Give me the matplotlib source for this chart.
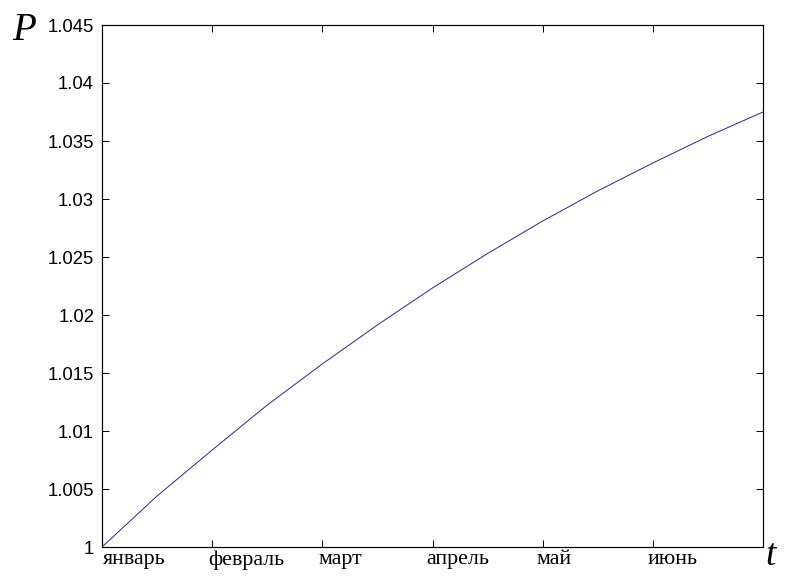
import matplotlib
matplotlib.use("Agg")
import matplotlib.pyplot as plt
from matplotlib.transforms import ScaledTranslation

t = [0, 0.5, 1, 1.5, 2, 2.5, 3, 3.5, 4, 4.5, 5, 5.5, 6]
P = [1.0, 1.0044, 1.00836, 1.01224, 1.01578, 1.01914, 1.02233,
     1.0253, 1.0281, 1.0307, 1.0331, 1.0354, 1.0375]
month_pos = [0, 1, 2, 3, 4, 5]
month_labels = ["январь", "февраль", "март", "апрель", "май", "июнь"]
yticks = [1, 1.005, 1.01, 1.015, 1.02, 1.025, 1.03, 1.035, 1.04, 1.045]
ytick_labels = ["1", "1.005", "1.01", "1.015", "1.02", "1.025", "1.03", "1.035", "1.04", "1.045"]

fig = plt.figure(figsize=(11, 8), dpi=72)
ax = fig.add_axes([102/792, 1-547/576, (763-102)/792, (547-25)/576])

ax.plot(t, P, color="#2b2b8c", lw=1.0)

ax.set_xlim(0, 6)
ax.set_ylim(1, 1.045)
ax.set_xticks(month_pos)
ax.set_xticklabels(month_labels, family="Liberation Serif", fontsize=22, ha="left")
ax.set_yticks(yticks)
ax.set_yticklabels(ytick_labels, family="Liberation Sans", fontsize=18.5)

ax.tick_params(direction="in", length=7, width=1, top=True, right=True, colors="black")
ax.tick_params(axis="x", pad=3)
ax.tick_params(axis="y", pad=8)
x_shifts = [1, -4, -4, -6, -6, -5]
for lab, dx in zip(ax.get_xticklabels(), x_shifts):
    lab.set_transform(lab.get_transform() + ScaledTranslation(dx/72, 0, fig.dpi_scale_trans))

for s in ax.spines.values():
    s.set_linewidth(1.2)
    s.set_color("black")

fig.text(12/792, 1-30/576, "P", family="Liberation Serif", style="italic",
         fontsize=39, va="center", ha="left")
fig.text(765/792, 1-556/576, "t", family="Liberation Serif", style="italic",
         fontsize=37, va="center", ha="left")

fig.savefig("out.png", dpi=72)
